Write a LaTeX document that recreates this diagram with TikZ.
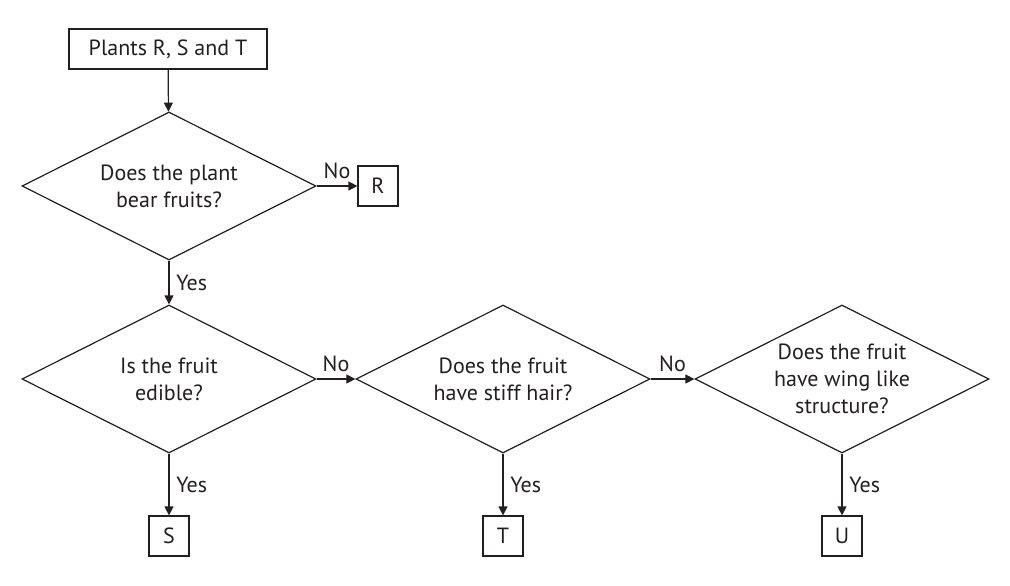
\documentclass[tikz,border=0pt]{standalone}
\usepackage{fontspec}
\setmainfont{PT Sans}
\usetikzlibrary{shapes.geometric,arrows.meta}

\definecolor{ink}{HTML}{231F20}

\tikzset{
  leaf/.style={draw, rectangle, minimum width=20pt, minimum height=20pt, inner sep=0pt},
  query/.style={draw, diamond, minimum width=147pt, minimum height=74pt, inner sep=0pt,
    label={[align=center]center:#1}},
  arrow/.style={-{Triangle[length=4.5pt, width=4.5pt]}},
}

\begin{document}
\begin{tikzpicture}[x=0.5pt, y=-0.5pt, color=ink, line width=0.6pt,
  font=\fontsize{11}{13.5}\selectfont]

  \useasboundingbox (0,0) rectangle (1010,585);

  % Start
  \node[leaf, minimum width=99pt] (plants) at (168,49) {Plants R, S and T};

  % Questions
  \node[query={Does the plant\\bear fruits?}] (fruits) at (169,186) {};
  \node[query={Is the fruit\\edible?}] (edible) at (169,379) {};
  \node[query={Does the fruit\\have stiff hair?}] (hair) at (503,379) {};
  \node[query={Does the fruit\\have wing like\\structure?}] (wing) at (842,379) {};

  % Answers
  \node[leaf] (r) at (378,186) {R};
  \node[leaf] (s) at (169,536) {S};
  \node[leaf] (t) at (503,536) {T};
  \node[leaf] (u) at (842,536) {U};

  % Connectors
  \draw[arrow] (plants) -- (fruits);
  \draw[arrow] (fruits) -- node[above] {No} (r);
  \draw[arrow] (fruits) -- node[right] {Yes} (edible);
  \draw[arrow] (edible) -- node[above] {No} (hair);
  \draw[arrow] (hair) -- node[above] {No} (wing);
  \draw[arrow] (edible) -- node[right] {Yes} (s);
  \draw[arrow] (hair) -- node[right] {Yes} (t);
  \draw[arrow] (wing) -- node[right] {Yes} (u);

\end{tikzpicture}
\end{document}
